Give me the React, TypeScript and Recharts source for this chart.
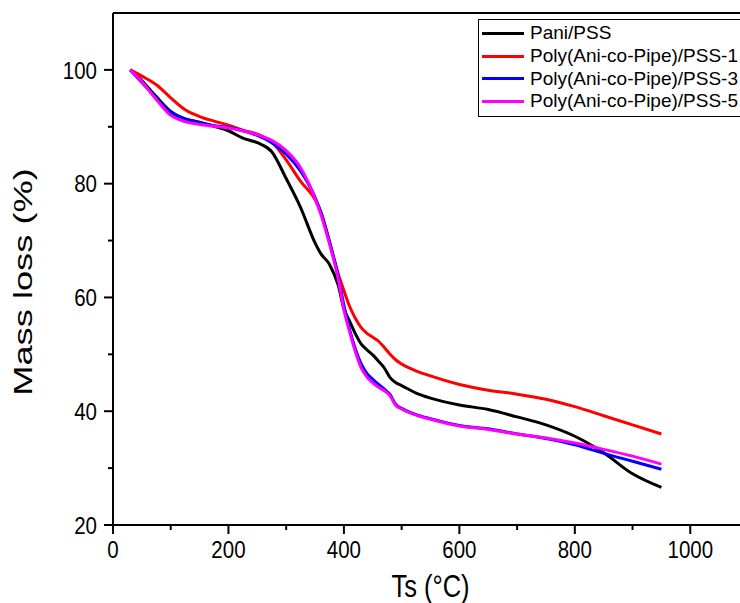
import { LineChart, Line, XAxis, YAxis, Legend, ReferenceLine } from 'recharts';

const temps = [30, 50, 75, 100, 125, 150, 175, 200, 225, 250, 275, 300, 325, 350, 360, 375, 390, 400, 410, 420, 430, 440, 450, 460, 470, 480, 490, 500, 525, 550, 600, 650, 700, 750, 800, 850, 900, 950];

const paniPss = [100, 98.1, 95.3, 92.7, 91.4, 90.8, 90.1, 89.3, 88.0, 87.2, 85.6, 80.9, 75.8, 69.6, 67.7, 65.8, 62.2, 58.0, 55.8, 53.6, 51.8, 50.8, 49.9, 48.8, 47.6, 45.9, 45.0, 44.5, 43.2, 42.3, 41.1, 40.3, 39.0, 37.6, 35.6, 32.7, 29.0, 26.6];
const pss1 = [100, 98.9, 97.4, 95.1, 93.0, 91.8, 91.0, 90.3, 89.4, 88.7, 87.3, 84.2, 80.4, 77.2, 75.0, 69.8, 64.2, 61.2, 58.4, 56.3, 54.7, 53.7, 53.0, 52.3, 51.2, 50.0, 49.0, 48.3, 47.1, 46.2, 44.7, 43.7, 43.0, 42.1, 40.8, 39.2, 37.6, 36.0];
const pss3 = [100, 97.8, 95.0, 92.5, 91.4, 90.7, 90.2, 89.9, 89.3, 88.5, 87.2, 85.2, 82.2, 77.6, 75.0, 69.8, 63.8, 58.6, 54.3, 50.9, 48.3, 46.6, 45.6, 44.7, 43.9, 42.9, 41.2, 40.5, 39.4, 38.7, 37.5, 36.9, 36.0, 35.2, 34.1, 32.6, 31.2, 29.8];
const pss5 = [100, 97.9, 94.8, 92.0, 90.9, 90.4, 90.1, 89.8, 89.3, 88.6, 87.6, 85.8, 82.8, 77.4, 74.6, 69.4, 63.3, 57.8, 53.9, 50.4, 47.6, 46.0, 45.0, 44.2, 43.6, 42.7, 41.0, 40.4, 39.3, 38.6, 37.4, 36.8, 36.0, 35.3, 34.4, 33.3, 32.1, 30.7];

const seriesNames = ['Pani/PSS', 'Poly(Ani-co-Pipe)/PSS-1', 'Poly(Ani-co-Pipe)/PSS-3', 'Poly(Ani-co-Pipe)/PSS-5'];
const seriesColors = ['#000000', '#ff0000', '#0000ff', '#ff00ff'];

const xTicks = [0, 100, 200, 300, 400, 500, 600, 700, 800, 900, 1000];
const yTicks = [20, 30, 40, 50, 60, 70, 80, 90, 100];

const data = temps.map((t, i) => ({ t, s0: paniPss[i], s1: pss1[i], s2: pss3[i], s3: pss5[i] }));

const font = '"Liberation Sans", Arial, sans-serif';

function XTick(props: any) {
  const { x, y, payload } = props;
  const major = payload.value % 200 === 0;
  return (
    <g>
      <line x1={x} x2={x} y1={y} y2={y + (major ? 9 : 5)} stroke="#000" strokeWidth={2} />
      {major && (
        <text transform={`translate(${x},${y + 33}) scale(1,1.2)`} textAnchor="middle" fontSize={20.5} fontFamily={font} fill="#000">
          {payload.value}
        </text>
      )}
    </g>
  );
}

function YTick(props: any) {
  const { x, y, payload } = props;
  const major = payload.value % 20 === 0;
  return (
    <g>
      <line x1={x - (major ? 9 : 5)} x2={x} y1={y} y2={y} stroke="#000" strokeWidth={2} />
      {major && (
        <text transform={`translate(${x - 16},${y + 8.8}) scale(1,1.2)`} textAnchor="end" fontSize={20.5} fontFamily={font} fill="#000">
          {payload.value}
        </text>
      )}
    </g>
  );
}

function LegendBox() {
  return (
    <div style={{ border: '1px solid #000', background: '#fff', width: 290, padding: '2px 0 3px 3px', fontFamily: font, fontSize: 19, color: '#000' }}>
      {seriesNames.map((name, i) => (
        <div key={name} style={{ display: 'flex', alignItems: 'center', height: 22.7, whiteSpace: 'nowrap' }}>
          <span style={{ display: 'inline-block', width: 42, height: 3, background: seriesColors[i], marginRight: 6 }} />
          <span>{name}</span>
        </div>
      ))}
    </div>
  );
}

export default function App() {
  return (
    <div style={{ position: 'fixed', left: 8, top: 8, width: 732, height: 595, overflow: 'hidden', background: '#fff' }}>
      <LineChart width={800} height={595} data={data} margin={{ top: 5, right: 60, bottom: 0, left: 0 }}>
        <XAxis
          dataKey="t"
          type="number"
          domain={[0, 1100]}
          ticks={xTicks}
          interval={0}
          height={78}
          tickSize={0}
          tickMargin={0}
          tickLine={false}
          axisLine={{ stroke: '#000', strokeWidth: 2 }}
          tick={XTick}
          label={{
            content: (p: any) => {
              const vb = p.viewBox || { x: 105, width: 635, y: 517 };
              return (
                <text transform={`translate(${vb.x + vb.width / 2},${vb.y + 72}) scale(1,1.2)`} textAnchor="middle" fontSize={25.5} fontFamily={font} fill="#000">
                  Ts (°C)
                </text>
              );
            },
          }}
        />
        <YAxis
          type="number"
          domain={[20, 110]}
          ticks={yTicks}
          interval={0}
          width={105}
          tickSize={0}
          tickMargin={0}
          tickLine={false}
          axisLine={{ stroke: '#000', strokeWidth: 2 }}
          tick={YTick}
          label={{
            content: (p: any) => {
              const vb = p.viewBox || { y: 5, height: 512 };
              return (
                <text transform={`translate(24,${vb.y + vb.height / 2 + 13}) rotate(-90) scale(1.45,1)`} textAnchor="middle" fontSize={25} fontFamily={font} fill="#000">
                  Mass loss (%)
                </text>
              );
            },
          }}
        />
        <ReferenceLine y={110} stroke="#000" strokeWidth={2} />
        <ReferenceLine x={1100} stroke="#000" strokeWidth={2} />
        <Legend layout="vertical" align="center" verticalAlign="middle" wrapperStyle={{ left: 470, top: 11, width: 300 }} content={() => <LegendBox />} />
        <Line type="monotone" dataKey="s0" name={seriesNames[0]} stroke={seriesColors[0]} strokeWidth={3} dot={false} isAnimationActive={false} />
        <Line type="monotone" dataKey="s1" name={seriesNames[1]} stroke={seriesColors[1]} strokeWidth={3} dot={false} isAnimationActive={false} />
        <Line type="monotone" dataKey="s2" name={seriesNames[2]} stroke={seriesColors[2]} strokeWidth={3} dot={false} isAnimationActive={false} />
        <Line type="monotone" dataKey="s3" name={seriesNames[3]} stroke={seriesColors[3]} strokeWidth={3} dot={false} isAnimationActive={false} />
      </LineChart>
    </div>
  );
}
